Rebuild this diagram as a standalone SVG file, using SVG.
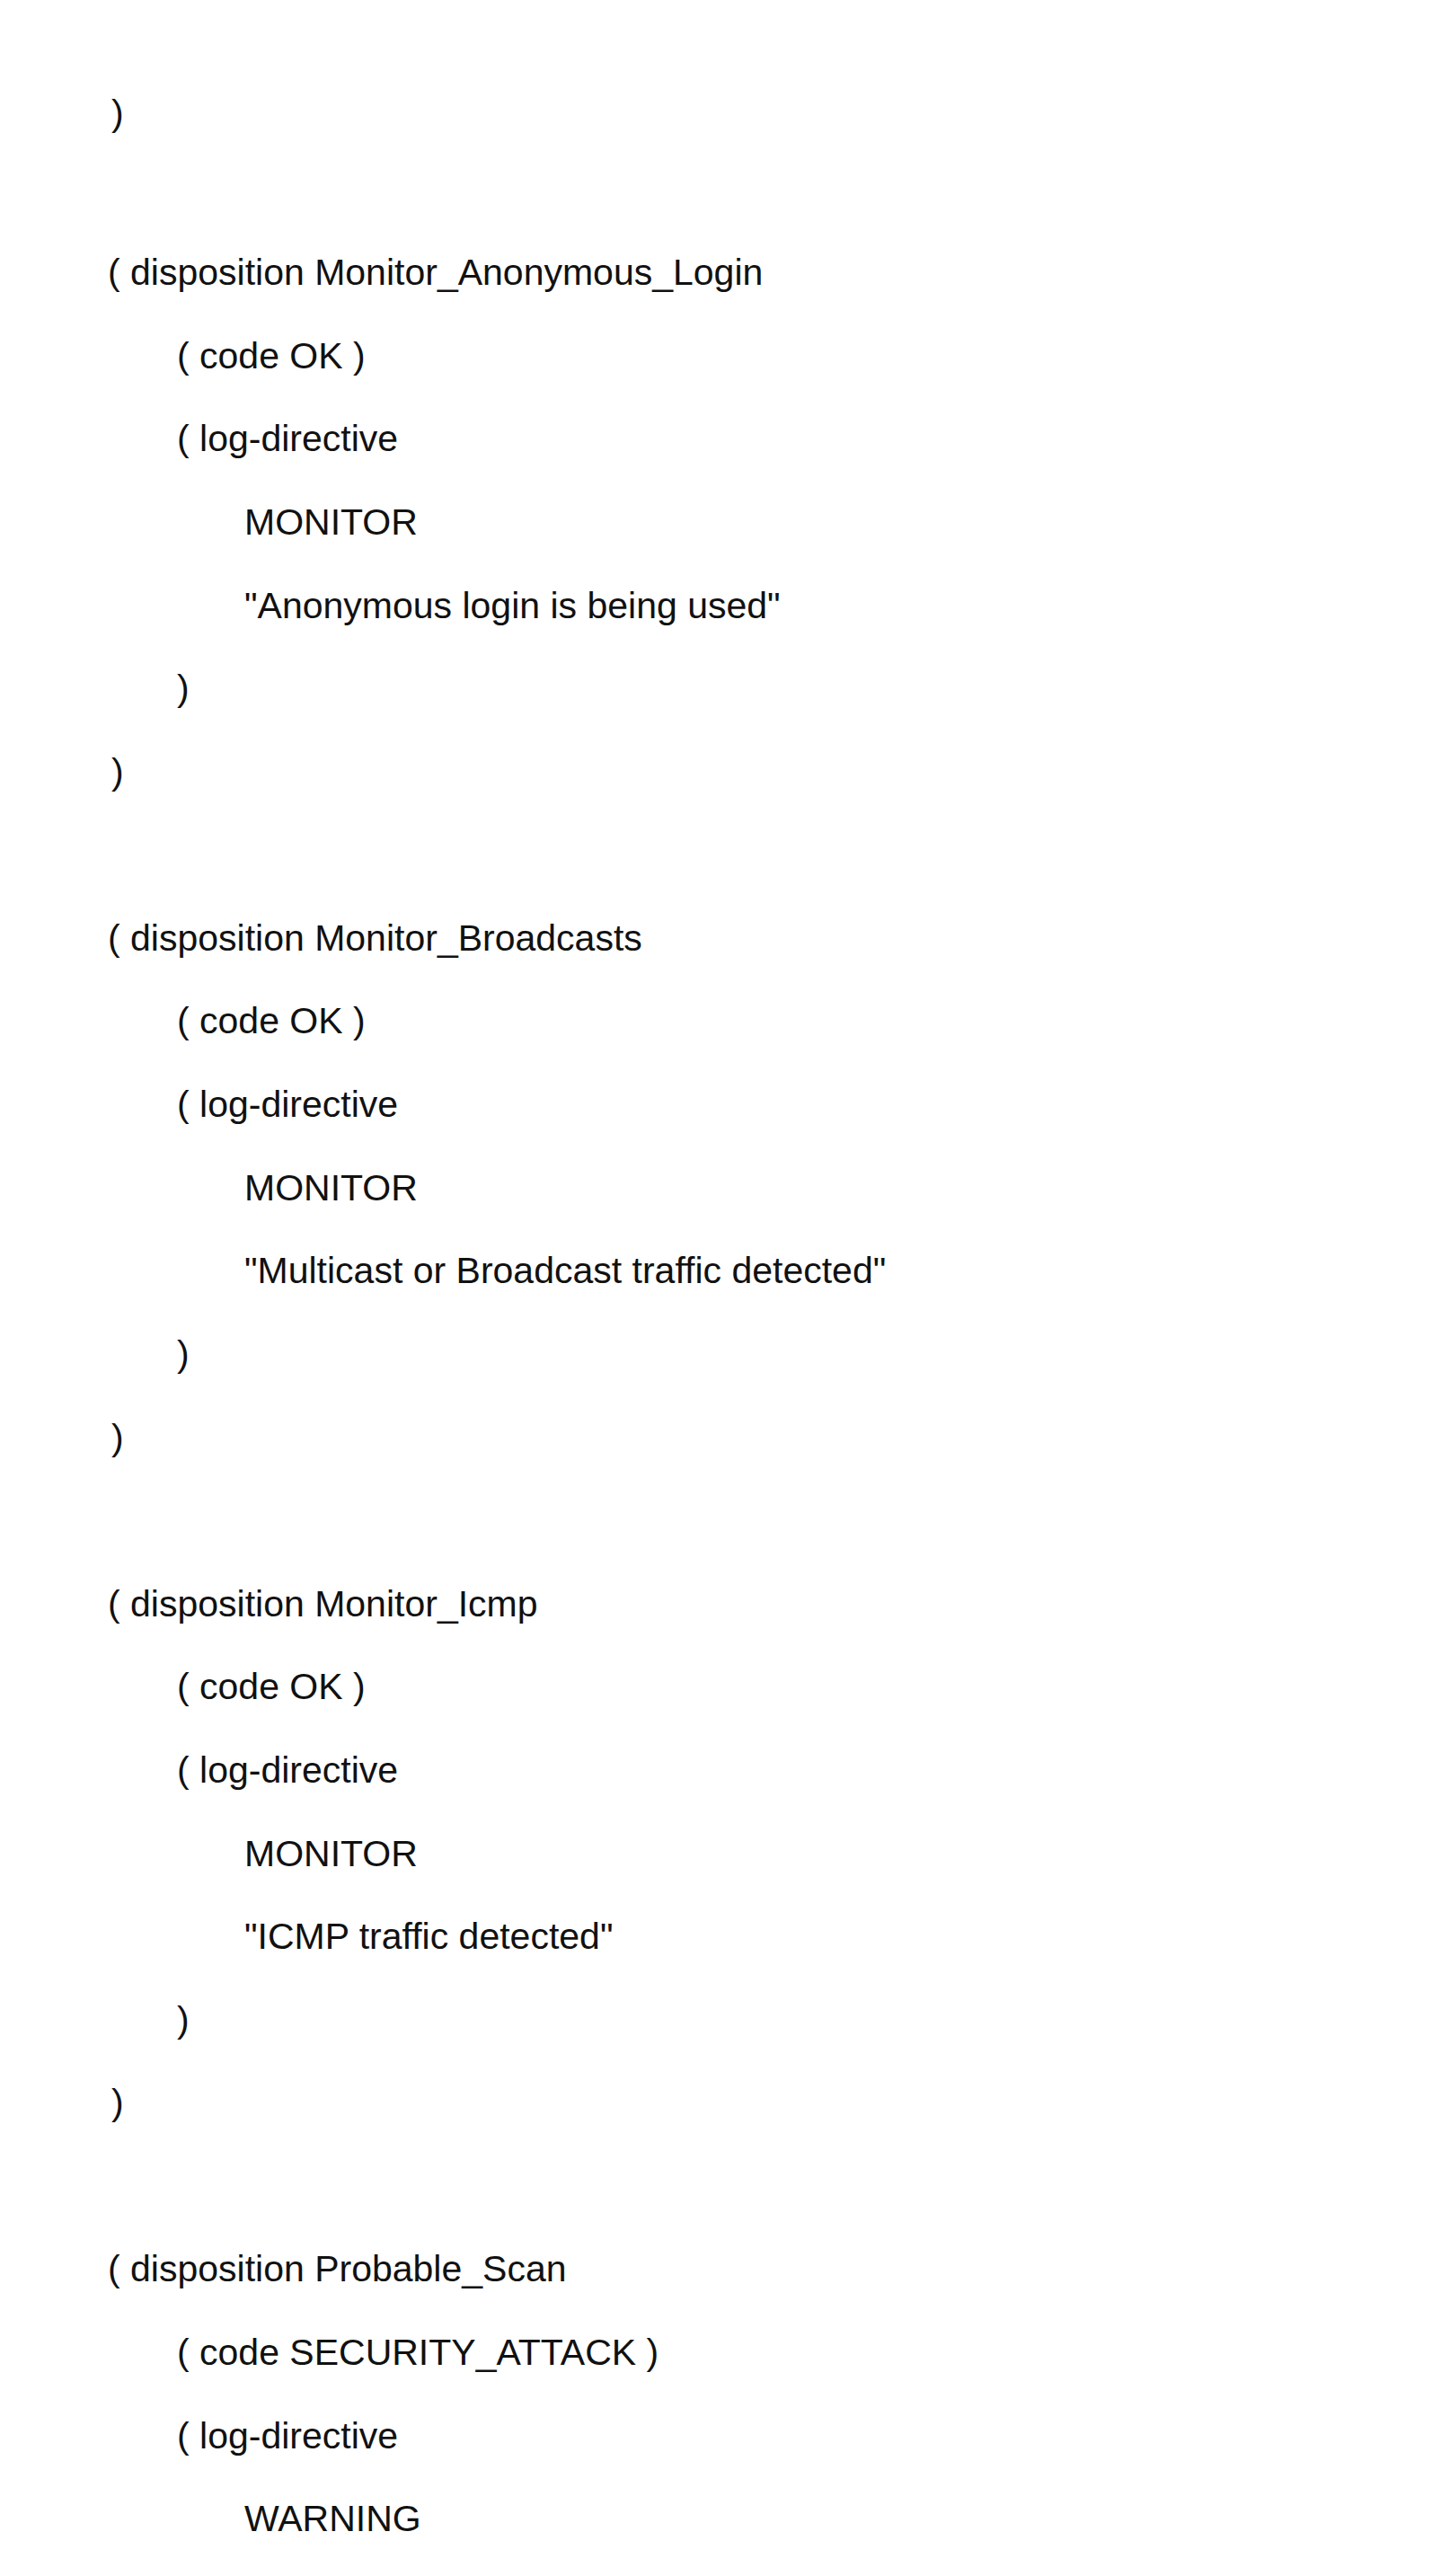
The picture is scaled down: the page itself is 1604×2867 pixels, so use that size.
<svg xmlns="http://www.w3.org/2000/svg" width="1604" height="2867" viewBox="0 0 1604 2867">
<style>text{font-family:"Liberation Sans",Arial,sans-serif;font-size:41px;fill:#111}.a{}</style>
<rect width="1604" height="2867" fill="#fff"/>
<g id="text">
<text x="124" y="140">)</text>
<text x="120" y="317">( disposition Monitor_Anonymous_Login</text>
<text x="197" y="410">( code OK )</text>
<text x="197" y="502">( log-directive</text>
<text x="272" y="595">MONITOR</text>
<text x="272" y="688">"Anonymous login is being used"</text>
<text x="197" y="780">)</text>
<text x="124" y="873">)</text>
<text x="120" y="1058">( disposition Monitor_Broadcasts</text>
<text x="197" y="1150">( code OK )</text>
<text x="197" y="1243">( log-directive</text>
<text x="272" y="1336">MONITOR</text>
<text x="272" y="1428">"Multicast or Broadcast traffic detected"</text>
<text x="197" y="1521">)</text>
<text x="124" y="1614">)</text>
<text x="120" y="1799">( disposition Monitor_Icmp</text>
<text x="197" y="1891">( code OK )</text>
<text x="197" y="1984">( log-directive</text>
<text x="272" y="2077">MONITOR</text>
<text x="272" y="2169">"ICMP traffic detected"</text>
<text x="197" y="2262">)</text>
<text x="124" y="2354">)</text>
<text x="120" y="2539">( disposition Probable_Scan</text>
<text x="197" y="2632">( code SECURITY_ATTACK )</text>
<text x="197" y="2725">( log-directive</text>
<text x="272" y="2817">WARNING</text>
</g>
</svg>
